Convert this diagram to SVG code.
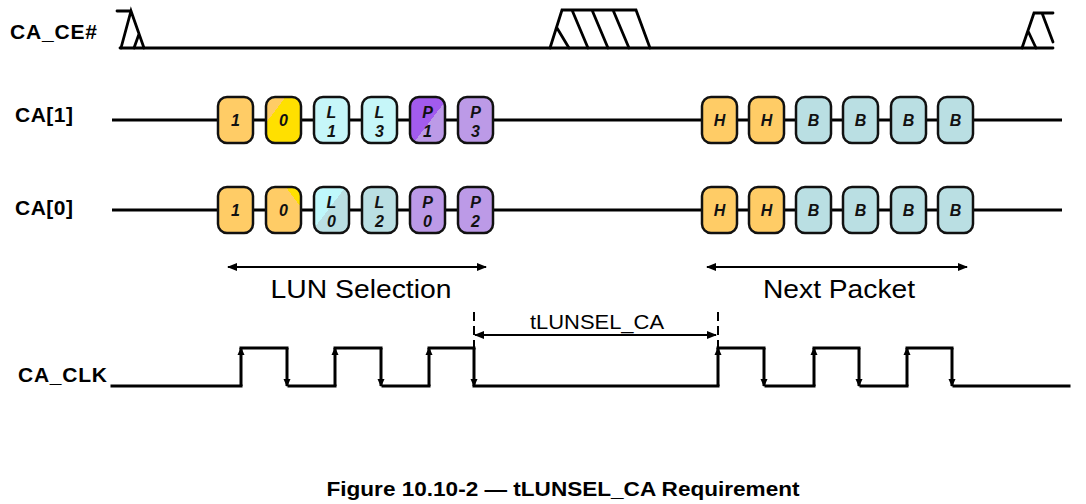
<svg xmlns="http://www.w3.org/2000/svg" width="1086" height="504" viewBox="0 0 1086 504">
<style>
.lbl{font-family:"Liberation Sans",Arial,sans-serif;font-weight:bold;font-size:21px;fill:#000}
.big{font-family:"Liberation Sans",Arial,sans-serif;font-size:26px;fill:#000;text-anchor:middle}
.mid{font-family:"Liberation Sans",Arial,sans-serif;font-size:21px;fill:#000;text-anchor:middle}
.cap{font-family:"Liberation Sans",Arial,sans-serif;font-weight:bold;font-size:20px;fill:#000;text-anchor:middle}
.bt{font-family:"Liberation Sans",Arial,sans-serif;font-weight:bold;font-style:italic;font-size:16px;fill:#111;text-anchor:middle}
.box{stroke:#111;stroke-width:2.5}
.wave{fill:none;stroke:#000;stroke-width:3;stroke-linecap:square}
.bus{stroke:#000;stroke-width:3}
.dim{stroke:#000;stroke-width:1.8}
.dash{stroke:#000;stroke-width:2;stroke-dasharray:9 5}
.or{fill:#FFCC66}.cy{fill:#C6F6F9}.bg{fill:#BADFE3}.pl{fill:#BC9AE7}
</style>
<defs>
<marker id="ah" markerWidth="10" markerHeight="8" refX="9" refY="4" orient="auto-start-reverse" markerUnits="userSpaceOnUse"><path d="M0,0 L10,4 L0,8 z" fill="#000"/></marker>
<marker id="ck" markerWidth="8" markerHeight="8" refX="7" refY="4" orient="auto" markerUnits="userSpaceOnUse"><path d="M0,0.5 L8,4 L0,7.5 z" fill="#000"/></marker>
<linearGradient id="gy" x1="0" y1="0" x2="1" y2="1"><stop offset="0" stop-color="#FFCC66"/><stop offset="0.28" stop-color="#FFCC66"/><stop offset="0.28" stop-color="#FFE000"/><stop offset="1" stop-color="#FFE000"/></linearGradient>
<linearGradient id="gp" x1="0" y1="0" x2="1" y2="1"><stop offset="0" stop-color="#A25BEE"/><stop offset="0.55" stop-color="#A25BEE"/><stop offset="0.55" stop-color="#BC9AE7"/><stop offset="1" stop-color="#BC9AE7"/></linearGradient>
<linearGradient id="gc" x1="0" y1="0" x2="1" y2="1"><stop offset="0" stop-color="#BFF8FB"/><stop offset="0.45" stop-color="#BFF8FB"/><stop offset="0.45" stop-color="#BADFE3"/><stop offset="1" stop-color="#BADFE3"/></linearGradient>
<linearGradient id="go" x1="1" y1="0" x2="0" y2="1"><stop offset="0" stop-color="#FFE000"/><stop offset="0.22" stop-color="#FFE000"/><stop offset="0.22" stop-color="#FFCC66"/><stop offset="1" stop-color="#FFCC66"/></linearGradient>
<linearGradient id="gr" x1="1" y1="0" x2="0" y2="1"><stop offset="0" stop-color="#E05020"/><stop offset="0.06" stop-color="#E05020"/><stop offset="0.06" stop-color="#FFCC66"/><stop offset="1" stop-color="#FFCC66"/></linearGradient>
</defs>
<rect width="1086" height="504" fill="#fff"/>

<g id="labels">
<text class="lbl" x="10" y="39" textLength="87">CA_CE#</text>
<text class="lbl" x="15" y="122" textLength="58">CA[1]</text>
<text class="lbl" x="15" y="215" textLength="58">CA[0]</text>
<text class="lbl" x="18" y="382" textLength="89">CA_CLK</text>
</g>

<g id="ca_ce" class="wave" style="stroke-linecap:round;stroke-width:2.8">
<path d="M117,11 L131,11 M121,48 L131,11 L144,48 M134,48 L139,34"/>
<path d="M120,48 L1053,48"/>
<path d="M550,48 L562,10 L636,10 L650,48 M557,28 L569,48 M572,10 L588,48 M592,10 L608,48 M613,10 L629,48"/>
<path d="M1022,48 L1034,13 L1053,13 M1028,31 L1036,48 M1042,13 L1053,42"/>
</g>

<g id="connectors">
<line class="bus" x1="112" y1="120" x2="1062" y2="120"/>
<line class="bus" x1="112" y1="210" x2="1062" y2="210"/>
<line class="dim" x1="228" y1="267" x2="486" y2="267" marker-start="url(#ah)" marker-end="url(#ah)"/>
<line class="dim" x1="707" y1="267" x2="967" y2="267" marker-start="url(#ah)" marker-end="url(#ah)"/>
<line class="dim" x1="475" y1="335" x2="716" y2="335" marker-start="url(#ah)" marker-end="url(#ah)"/>
<line class="dash" x1="474" y1="312" x2="474" y2="386"/>
<line class="dash" x1="718" y1="312" x2="718" y2="386"/>
</g>

<g id="ca1_boxes">
<g id="ca1_b1"><rect class="box or" x="218" y="97" width="35" height="46" rx="9"/><text class="bt" x="235.5" y="126">1</text></g>
<g id="ca1_b2"><rect class="box" fill="url(#gy)" x="266" y="97" width="35" height="46" rx="9"/><text class="bt" x="283.5" y="126">0</text></g>
<g id="ca1_b3"><rect class="box cy" x="314" y="97" width="35" height="46" rx="9"/><text class="bt" x="331.5" y="118">L</text><text class="bt" x="331.5" y="137">1</text></g>
<g id="ca1_b4"><rect class="box cy" x="362" y="97" width="35" height="46" rx="9"/><text class="bt" x="379.5" y="118">L</text><text class="bt" x="379.5" y="137">3</text></g>
<g id="ca1_b5"><rect class="box" fill="url(#gp)" x="410" y="97" width="35" height="46" rx="9"/><text class="bt" x="427.5" y="118">P</text><text class="bt" x="427.5" y="137">1</text></g>
<g id="ca1_b6"><rect class="box pl" x="458" y="97" width="35" height="46" rx="9"/><text class="bt" x="475.5" y="118">P</text><text class="bt" x="475.5" y="137">3</text></g>
<g id="ca1_b7"><rect class="box or" x="702" y="97" width="35" height="46" rx="9"/><text class="bt" x="719.5" y="126">H</text></g>
<g id="ca1_b8"><rect class="box or" x="749" y="97" width="35" height="46" rx="9"/><text class="bt" x="766.5" y="126">H</text></g>
<g id="ca1_b9"><rect class="box bg" x="796" y="97" width="35" height="46" rx="9"/><text class="bt" x="813.5" y="126">B</text></g>
<g id="ca1_b10"><rect class="box bg" x="843" y="97" width="35" height="46" rx="9"/><text class="bt" x="860.5" y="126">B</text></g>
<g id="ca1_b11"><rect class="box bg" x="891" y="97" width="35" height="46" rx="9"/><text class="bt" x="908.5" y="126">B</text></g>
<g id="ca1_b12"><rect class="box bg" x="938" y="97" width="35" height="46" rx="9"/><text class="bt" x="955.5" y="126">B</text></g>
</g>

<g id="ca0_boxes">
<g id="ca0_b1"><rect class="box" fill="url(#gr)" x="218" y="187" width="35" height="46" rx="9"/><text class="bt" x="235.5" y="216">1</text></g>
<g id="ca0_b2"><rect class="box" fill="url(#go)" x="266" y="187" width="35" height="46" rx="9"/><text class="bt" x="283.5" y="216">0</text></g>
<g id="ca0_b3"><rect class="box" fill="url(#gc)" x="314" y="187" width="35" height="46" rx="9"/><text class="bt" x="331.5" y="208">L</text><text class="bt" x="331.5" y="227">0</text></g>
<g id="ca0_b4"><rect class="box bg" x="362" y="187" width="35" height="46" rx="9"/><text class="bt" x="379.5" y="208">L</text><text class="bt" x="379.5" y="227">2</text></g>
<g id="ca0_b5"><rect class="box pl" x="410" y="187" width="35" height="46" rx="9"/><text class="bt" x="427.5" y="208">P</text><text class="bt" x="427.5" y="227">0</text></g>
<g id="ca0_b6"><rect class="box pl" x="458" y="187" width="35" height="46" rx="9"/><text class="bt" x="475.5" y="208">P</text><text class="bt" x="475.5" y="227">2</text></g>
<g id="ca0_b7"><rect class="box or" x="702" y="187" width="35" height="46" rx="9"/><text class="bt" x="719.5" y="216">H</text></g>
<g id="ca0_b8"><rect class="box or" x="749" y="187" width="35" height="46" rx="9"/><text class="bt" x="766.5" y="216">H</text></g>
<g id="ca0_b9"><rect class="box bg" x="796" y="187" width="35" height="46" rx="9"/><text class="bt" x="813.5" y="216">B</text></g>
<g id="ca0_b10"><rect class="box bg" x="843" y="187" width="35" height="46" rx="9"/><text class="bt" x="860.5" y="216">B</text></g>
<g id="ca0_b11"><rect class="box bg" x="891" y="187" width="35" height="46" rx="9"/><text class="bt" x="908.5" y="216">B</text></g>
<g id="ca0_b12"><rect class="box bg" x="938" y="187" width="35" height="46" rx="9"/><text class="bt" x="955.5" y="216">B</text></g>
</g>

<g id="ca_clk">
<path class="wave" d="M112,386 H241 M241,348 H287 M289,386 H335 M335,348 H381 M383,386 H429 M429,348 H474 M474,386 H718 M718,348 H764 M766,386 H814 M814,348 H859 M861,386 H907 M907,348 H952 M954,386 H1069"/>
<g class="wave" style="stroke-linecap:butt">
<line x1="241" y1="386" x2="241" y2="348" marker-end="url(#ck)"/>
<line x1="335" y1="386" x2="335" y2="348" marker-end="url(#ck)"/>
<line x1="429" y1="386" x2="429" y2="348" marker-end="url(#ck)"/>
<line x1="718" y1="386" x2="718" y2="348" marker-end="url(#ck)"/>
<line x1="814" y1="386" x2="814" y2="348" marker-end="url(#ck)"/>
<line x1="907" y1="386" x2="907" y2="348" marker-end="url(#ck)"/>
<line x1="287" y1="348" x2="287" y2="386" marker-end="url(#ck)"/>
<line x1="381" y1="348" x2="381" y2="386" marker-end="url(#ck)"/>
<line x1="474" y1="348" x2="474" y2="386" marker-end="url(#ck)"/>
<line x1="764" y1="348" x2="764" y2="386" marker-end="url(#ck)"/>
<line x1="859" y1="348" x2="859" y2="386" marker-end="url(#ck)"/>
<line x1="952" y1="348" x2="952" y2="386" marker-end="url(#ck)"/>
</g>
</g>

<g id="annotations">
<text class="big" x="361" y="298" textLength="181" lengthAdjust="spacingAndGlyphs">LUN Selection</text>
<text class="big" x="839" y="298" textLength="152" lengthAdjust="spacingAndGlyphs">Next Packet</text>
<text class="mid" x="597" y="329" textLength="134" lengthAdjust="spacingAndGlyphs">tLUNSEL_CA</text>
<text class="cap" x="563" y="496" textLength="473" lengthAdjust="spacingAndGlyphs">Figure 10.10-2 — tLUNSEL_CA Requirement</text>
</g>
</svg>
